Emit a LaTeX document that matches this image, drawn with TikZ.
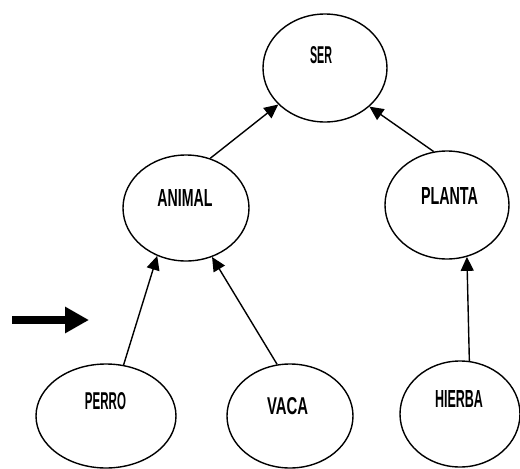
\documentclass[tikz,border=0pt]{standalone}
\usepackage{fontspec}
\usepackage{graphicx}
\newfontfamily\lblfont{Liberation Sans}
\newcommand\mylbl[2]{\resizebox{#1}{17pt}{\lblfont\bfseries #2}}
\usetikzlibrary{shapes.geometric,arrows.meta}
\begin{document}
\begin{tikzpicture}[x=1pt,y=-1pt,
  ell/.style={draw,ellipse,line width=1.4pt,inner sep=0pt},
  lbl/.style={inner sep=0pt},
  conn/.style={line width=1.4pt,-{Triangle[length=14pt,width=13pt]}}]
\useasboundingbox (0,0) rectangle (520,469);
\node[ell,minimum width=124pt,minimum height=108pt] (ser) at (325,68) {};
\node[ell,minimum width=126pt,minimum height=106pt] (animal) at (186,208) {};
\node[ell,minimum width=124pt,minimum height=108pt] (planta) at (447,205) {};
\node[ell,minimum width=140pt,minimum height=104pt] (perro) at (106,416) {};
\node[ell,minimum width=126pt,minimum height=104pt] (vaca) at (290,416) {};
\node[ell,minimum width=120pt,minimum height=106pt] (hierba) at (460,414) {};
\node[lbl] (tser) at (321,55.5) {\mylbl{22pt}{SER}};
\node[lbl] (tanimal) at (185,197.5) {\mylbl{55pt}{ANIMAL}};
\node[lbl] (tplanta) at (449.5,196) {\mylbl{57pt}{PLANTA}};
\node[lbl] (tperro) at (105.5,401.5) {\mylbl{41pt}{PERRO}};
\node[lbl] (tvaca) at (287.5,406) {\mylbl{41pt}{VACA}};
\node[lbl] (thierba) at (459,399) {\mylbl{48pt}{HIERBA}};
\draw[conn] (animal.64) -- (ser.218);
\draw[conn] (planta.104) -- (ser.-41);
\draw[conn] (perro.71) -- (animal.-121);
\draw[conn] (vaca.104) -- (animal.-62);
\draw[conn] (hierba.80) -- (planta.-69);
\coordinate (a0) at (12,320);
\coordinate (a1) at (89,320);
\draw[line width=8pt,-{Triangle[length=24pt,width=25pt]}] (a0) -- (a1);
\end{tikzpicture}
\end{document}
